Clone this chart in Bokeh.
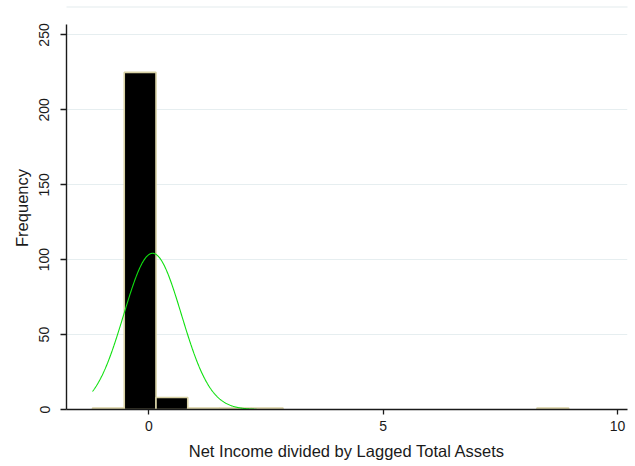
import numpy as np
from bokeh.plotting import figure
from bokeh.models import Range1d, BoxAnnotation, FixedTicker, ColumnDataSource
from bokeh.embed import file_html
from bokeh.resources import INLINE

# Histogram of net income scaled by lagged total assets (15 equal-width bins)
bin_start = -1.202
bin_width = 0.6775
counts = [1, 225, 8, 1, 1, 1, 0, 0, 0, 0, 0, 0, 0, 0, 1]

# Normal density overlay parameters
norm_mean = 0.08
norm_sd = 0.617
curve_x_min = -1.202
curve_x_max = 2.3

x_ticks = [0, 5, 10]
y_ticks = [0, 50, 100, 150, 200, 250]

FONT = "Liberation Sans"
BAR_EDGE = "#d8d1a5"

edges = [bin_start + k * bin_width for k in range(len(counts) + 1)]
bars = ColumnDataSource(dict(
    left=[edges[i] for i, c in enumerate(counts) if c > 0],
    right=[edges[i + 1] for i, c in enumerate(counts) if c > 0],
    top=[c for c in counts if c > 0],
))

n_obs = sum(counts)
xs = np.linspace(curve_x_min, curve_x_max, 300)
ys = n_obs * bin_width * np.exp(-0.5 * ((xs - norm_mean) / norm_sd) ** 2) / (norm_sd * np.sqrt(2 * np.pi))

p = figure(width=635, height=466, output_backend="svg", toolbar_location=None,
           x_range=Range1d(-1.757, 10.215), y_range=Range1d(0, 269),
           min_border_left=66, min_border_right=8, min_border_top=6, min_border_bottom=57)
p.background_fill_color = "white"
p.border_fill_color = "white"
p.outline_line_color = None

p.quad(left="left", right="right", top="top", bottom=0, source=bars,
       fill_color="black", line_color=BAR_EDGE, line_width=1.6)
p.line(xs, ys, line_color="#10e010", line_width=1.1)

# thin rule across the top of the graph region
p.add_layout(BoxAnnotation(left=3, right=635, top=5, bottom=7,
                           left_units="canvas", right_units="canvas",
                           top_units="canvas", bottom_units="canvas",
                           fill_color="#e4ecee", fill_alpha=1.0, line_color=None))

p.xgrid.grid_line_color = None
p.ygrid.grid_line_color = "#e6eef0"
p.ygrid.grid_line_width = 1.2

p.xaxis.ticker = FixedTicker(ticks=x_ticks)
p.yaxis.ticker = FixedTicker(ticks=y_ticks)
p.yaxis.bounds = (0, 257)

for ax in (p.xaxis, p.yaxis):
    ax.axis_line_color = "#1a1a1a"
    ax.axis_line_width = 1.4
    ax.major_tick_line_color = "#1a1a1a"
    ax.major_tick_line_width = 1.3
    ax.major_tick_in = 0
    ax.minor_tick_line_color = None
    ax.major_label_text_font = FONT
    ax.major_label_text_font_size = "14px"
    ax.major_label_text_color = "#1a1a1a"
    ax.axis_label_text_font = FONT
    ax.axis_label_text_font_size = "16.5px"
    ax.axis_label_text_font_style = "normal"
    ax.axis_label_text_color = "#1a1a1a"

p.xaxis.major_tick_out = 5
p.yaxis.major_tick_out = 6
p.xaxis.major_label_standoff = 6
p.yaxis.major_label_standoff = 11
p.yaxis.major_label_orientation = "vertical"
p.xaxis.axis_label = "Net Income divided by Lagged Total Assets"
p.yaxis.axis_label = "Frequency"
p.xaxis.axis_label_standoff = 8
p.yaxis.axis_label_standoff = 6

open("out.html", "w").write(file_html(p, INLINE))
